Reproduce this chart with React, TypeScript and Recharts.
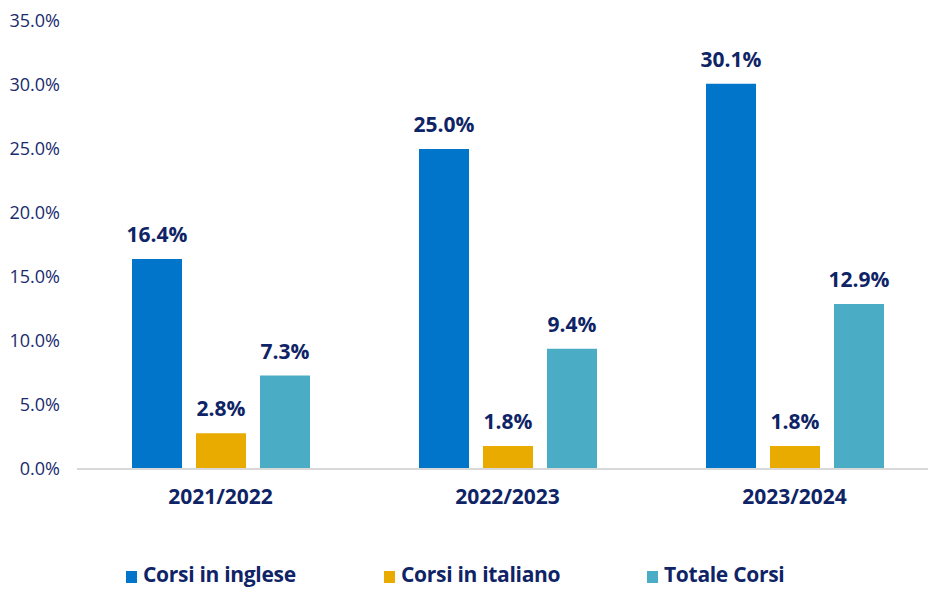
import { BarChart, Bar, XAxis, YAxis, Legend, LabelList } from 'recharts'

const years = ['2021/2022', '2022/2023', '2023/2024']
const corsiInglese = [16.4, 25.0, 30.1]
const corsiItaliano = [2.8, 1.8, 1.8]
const totaleCorsi = [7.3, 9.4, 12.9]
const yTicks = [0, 5, 10, 15, 20, 25, 30, 35]

const series = [
  { key: 'inglese', name: 'Corsi in inglese', color: '#0075c9' },
  { key: 'italiano', name: 'Corsi in italiano', color: '#eaab00' },
  { key: 'totale', name: 'Totale Corsi', color: '#4bacc6' }
]

const navy = '#0f2466'
const font = '"Open Sans", "Noto Sans", sans-serif'
const legendSlots = [258, 263, 200]

const data = years.map((year, i) => ({
  year,
  inglese: corsiInglese[i],
  italiano: corsiItaliano[i],
  totale: totaleCorsi[i]
}))

const pct = (v: number) => `${v.toFixed(1)}%`

function LegendContent() {
  return (
    <div style={{ display: 'flex', height: 30, alignItems: 'center', paddingLeft: 126, fontFamily: font }}>
      {series.map((s, i) => (
        <div key={s.key} style={{ display: 'flex', alignItems: 'center', width: legendSlots[i], flex: 'none' }}>
          <span style={{ width: 11, height: 12, background: s.color, position: 'relative', top: 3, marginRight: 6 }} />
          <span style={{ fontSize: 21, fontWeight: 700, color: navy, lineHeight: '30px', letterSpacing: -0.3 }}>{s.name}</span>
        </div>
      ))}
    </div>
  )
}

export default function App() {
  return (
    <div style={{ position: 'absolute', left: 0, top: 0, width: 928, height: 589, overflow: 'hidden', background: '#fff' }}>
      <BarChart
        width={940}
        height={589}
        data={data}
        margin={{ top: 21, right: 2, left: 0, bottom: 0 }}
        barSize={50}
        barGap={14}
      >
        <XAxis
          dataKey="year"
          height={90}
          tickLine={false}
          tickSize={0}
          tickMargin={20}
          axisLine={{ stroke: '#d9d9d9', strokeWidth: 2 }}
          tick={{ fill: navy, fontSize: 21, fontWeight: 700, fontFamily: font }}
        />
        <YAxis
          width={77}
          domain={[0, 35]}
          ticks={yTicks}
          tickFormatter={pct}
          axisLine={false}
          tickLine={false}
          tickSize={0}
          tickMargin={17}
          tick={{ fill: '#1a2b6d', fontSize: 18, fontFamily: font }}
        />
        <Legend verticalAlign="bottom" height={30} content={<LegendContent />} />
        {series.map(s => (
          <Bar key={s.key} dataKey={s.key} name={s.name} fill={s.color} isAnimationActive={false}>
            <LabelList
              dataKey={s.key}
              position="top"
              offset={17}
              formatter={(v: any) => pct(Number(v))}
              style={{ fill: navy, fontSize: 21, fontWeight: 700, fontFamily: font }}
            />
          </Bar>
        ))}
      </BarChart>
    </div>
  )
}
